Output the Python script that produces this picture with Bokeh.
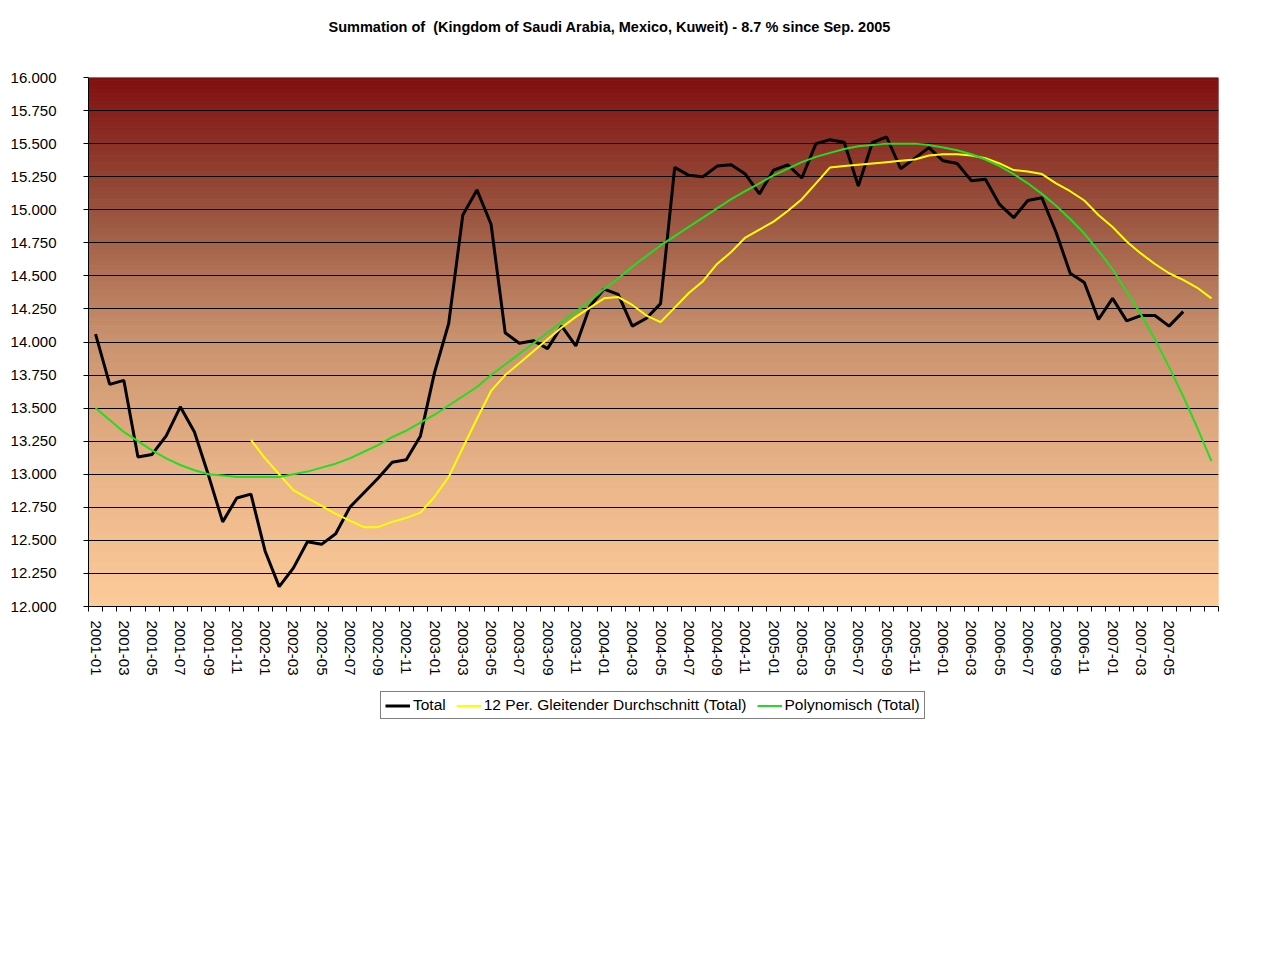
import numpy as np
from bokeh.plotting import figure
from bokeh.layouts import column
from bokeh.models import FixedTicker, Range1d, Legend, LegendItem, Label
from bokeh.embed import file_html
from bokeh.resources import INLINE

# ---------------- data ----------------
months = [f"{y}-{m:02d}" for y in range(2001, 2008) for m in range(1, 13)][:78]
n_cats = 80  # 78 months + 2 forecast periods of the trendline

total = [14060, 13680, 13710, 13130, 13150, 13290, 13510, 13320, 12990, 12640,
         12820, 12850, 12420, 12150, 12290, 12490, 12470, 12550, 12750, 12860,
         12970, 13090, 13110, 13290, 13770, 14140, 14960, 15150, 14890, 14070,
         13990, 14010, 13950, 14120, 13970, 14270, 14400, 14360, 14120, 14180,
         14290, 15320, 15260, 15250, 15330, 15340, 15270, 15120, 15300, 15340,
         15240, 15500, 15530, 15510, 15180, 15510, 15550, 15310, 15390, 15470,
         15370, 15350, 15220, 15230, 15040, 14940, 15070, 15090, 14830, 14520,
         14450, 14170, 14330, 14160, 14200, 14200, 14120, 14230]

ma_start = 11
moving_avg = [13260, 13120, 13000, 12880, 12820, 12760, 12700, 12650, 12600,
              12600, 12640, 12670, 12710, 12830, 12980, 13200, 13420, 13630,
              13750, 13840, 13930, 14020, 14110, 14190, 14260, 14330, 14340,
              14280, 14200, 14150, 14260, 14370, 14460, 14590, 14680, 14790,
              14850, 14910, 14990, 15080, 15200, 15320, 15330, 15340, 15350,
              15360, 15370, 15380, 15410, 15420, 15420, 15410, 15390, 15350,
              15300, 15290, 15270, 15200, 15140, 15070, 14960, 14870, 14760,
              14670, 14590, 14520, 14470, 14410, 14330]

poly = [13500, 13410, 13320, 13250, 13180, 13120, 13070, 13030, 13000, 12990,
        12980, 12980, 12980, 12980, 13000, 13020, 13050, 13080, 13120, 13170,
        13220, 13280, 13330, 13390, 13450, 13520, 13590, 13660, 13750, 13830,
        13910, 13990, 14070, 14150, 14230, 14310, 14400, 14480, 14570, 14650,
        14730, 14800, 14870, 14940, 15010, 15080, 15140, 15200, 15260, 15310,
        15360, 15400, 15430, 15460, 15480, 15490, 15500, 15500, 15500, 15490,
        15470, 15450, 15420, 15380, 15330, 15270, 15200, 15120, 15030, 14930,
        14820, 14690, 14550, 14380, 14210, 14020, 13810, 13590, 13350, 13100]

y_ticks = [12000, 12250, 12500, 12750, 13000, 13250, 13500, 13750, 14000,
           14250, 14500, 14750, 15000, 15250, 15500, 15750, 16000]
y_min, y_max = 12000, 16000

title_text = "Summation of \u00a0(Kingdom of Saudi Arabia, Mexico, Kuweit) - 8.7 % since Sep. 2005"
legend_labels = ["Total", "12 Per. Gleitender Durchschnitt (Total)", "Polynomisch (Total)"]

FONT = "Liberation Sans"
W = 1264
LEFT = 88
FW, FH = 1130, 529
TOP_H, BOT_H = 67, 44

line_styles = [dict(line_color="black", line_width=3),
               dict(line_color="#ffff00", line_width=2),
               dict(line_color="#22dd22", line_width=2)]


def blank_fig(h):
    f = figure(width=W, height=h, x_range=Range1d(0, 1), y_range=Range1d(0, 1),
               output_backend="svg", toolbar_location=None,
               x_axis_location=None, y_axis_location=None,
               min_border=0, background_fill_color="white",
               border_fill_color="white")
    f.outline_line_color = None
    f.grid.visible = False
    return f


# ---------------- title strip ----------------
# (frames of the column children are aligned with the main chart's frame)
top = blank_fig(TOP_H)
top.add_layout(Label(x=328 - LEFT, y=TOP_H - 26, x_units="screen", y_units="screen",
                     text=title_text, text_font=FONT, text_font_size="14.5px",
                     text_font_style="bold", text_color="black",
                     text_align="left", text_baseline="middle"))

# ---------------- main chart ----------------
p = figure(frame_width=FW, frame_height=FH,
           x_range=Range1d(0, n_cats), y_range=Range1d(y_min, y_max),
           output_backend="svg", toolbar_location=None,
           min_border_left=LEFT, min_border_right=W - LEFT - FW, min_border_top=10,
           min_border_bottom=80,
           background_fill_color="white", border_fill_color="white")
p.outline_line_color = None

# background gradient (dark red top -> peach bottom)
stops_t = [0.0, 0.25, 0.5, 0.75, 1.0]
stops_c = np.array([[128, 15, 15], [152, 82, 62], [202, 147, 111],
                    [233, 180, 137], [252, 203, 153]], dtype=float)
nb = 200
edges = np.linspace(y_max, y_min, nb + 1)
cols = []
for k in range(nb):
    t = (k + 0.5) / nb
    c = [np.interp(t, stops_t, stops_c[:, j]) for j in range(3)]
    cols.append("#%02x%02x%02x" % tuple(int(round(v)) for v in c))
bg = p.quad(left=0, right=n_cats, top=edges[:-1], bottom=edges[1:],
            fill_color=cols, line_color=cols, line_width=1)
bg.level = "image"

# grid
p.xgrid.visible = False
p.ygrid.ticker = FixedTicker(ticks=y_ticks)
p.ygrid.grid_line_color = "black"
p.ygrid.grid_line_width = 1
p.ygrid.grid_line_alpha = 1.0

# series
x_total = np.arange(len(total)) + 0.5
x_ma = np.arange(ma_start, ma_start + len(moving_avg)) + 0.5
x_poly = np.arange(len(poly)) + 0.5

p.line(x_total, total, **line_styles[0])
p.line(x_ma, moving_avg, **line_styles[1])
p.line(x_poly, poly, **line_styles[2])

# axes
yax = p.yaxis[0]
yax.ticker = FixedTicker(ticks=y_ticks)
yax.major_label_overrides = {v: f"{v // 1000}.{v % 1000:03d}" for v in y_ticks}
yax.major_tick_out = 5
yax.major_tick_in = 0
yax.minor_tick_out = 0
yax.minor_tick_in = 0
yax.major_label_standoff = 27
yax.major_label_text_font = FONT
yax.major_label_text_font_size = "15px"
yax.major_label_text_color = "black"
yax.axis_line_color = "black"

xax = p.xaxis[0]
label_pos = [i + 0.5 for i in range(0, len(months), 2)]
xax.ticker = FixedTicker(ticks=label_pos, minor_ticks=list(range(0, n_cats + 1)))
xax.major_label_overrides = {i + 0.5: months[i] for i in range(0, len(months), 2)}
xax.major_label_orientation = "vertical"
xax.major_tick_out = 0
xax.major_tick_in = 0
xax.minor_tick_out = 5
xax.minor_tick_in = 0
xax.major_label_standoff = 9
xax.major_label_text_font = FONT
xax.major_label_text_font_size = "15px"
xax.major_label_text_color = "black"
xax.axis_line_color = "black"

# ---------------- legend strip ----------------
bot = blank_fig(BOT_H)
# legend proxies: NaN data draws nothing in the plot, only the legend glyphs
leg_renderers = [bot.line(x=[np.nan], y=[np.nan], **st) for st in line_styles]
legend = Legend(items=[LegendItem(label=lab, renderers=[r])
                       for lab, r in zip(legend_labels, leg_renderers)],
                orientation="horizontal", location=(380 - LEFT, 11))
legend.label_text_font = FONT
legend.label_text_font_size = "15.5px"
legend.label_text_color = "black"
legend.glyph_width = 25
legend.glyph_height = 17
legend.label_height = 17
legend.label_standoff = 3
legend.spacing = 10
legend.padding = 4
legend.margin = 0
legend.border_line_color = "black"
legend.border_line_width = 1
legend.background_fill_color = "white"
legend.background_fill_alpha = 1.0
bot.add_layout(legend, "center")

layout = column(top, p, bot, spacing=0)
open("out.html", "w").write(file_html(layout, INLINE))
